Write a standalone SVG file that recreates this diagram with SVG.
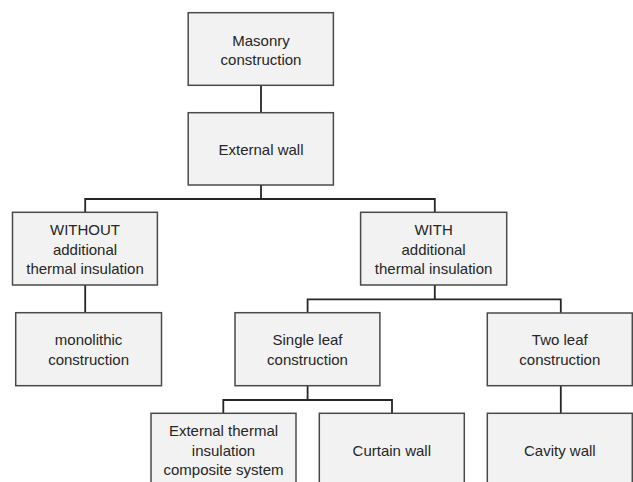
<svg xmlns="http://www.w3.org/2000/svg" width="633" height="482" viewBox="0 0 633 482">
<style>
.box{fill:#f2f2f2;stroke:#4a4a4a;stroke-width:1.5}
.lbl{font-family:"Liberation Sans",Arial,sans-serif;font-size:15px;fill:#262626;text-anchor:middle}
.conn{fill:none;stroke:#262626;stroke-width:1.8}
</style>
<rect width="633" height="482" fill="#ffffff"/>
<g id="connectors">
<path class="conn" d="M261,85.5 V112.5"/>
<path class="conn" d="M261,185 V199 M85.2,212.5 V199 H434.8 V212.5"/>
<path class="conn" d="M85.2,285 V312.7"/>
<path class="conn" d="M434.8,285 V299.3 M307.6,312.7 V299.3 H560.8 V312.7"/>
<path class="conn" d="M307.6,385.7 V400 M223.3,413.3 V400 H392 V413.3"/>
<path class="conn" d="M560.8,385.7 V413.3"/>
</g>
<g id="masonry">
<rect class="box" x="188.2" y="12.7" width="145.2" height="72.6"/>
<text class="lbl" x="261" y="45.7">Masonry</text>
<text class="lbl" x="261" y="65.2">construction</text>
</g>
<g id="external-wall">
<rect class="box" x="188.2" y="112.7" width="145.2" height="72.3"/>
<text class="lbl" x="261" y="155.3">External wall</text>
</g>
<g id="without">
<rect class="box" x="12.5" y="212.3" width="144.9" height="72.7"/>
<text class="lbl" x="85" y="235.3">WITHOUT</text>
<text class="lbl" x="85" y="254.8">additional</text>
<text class="lbl" x="85" y="274.3">thermal insulation</text>
</g>
<g id="with">
<rect class="box" x="360.6" y="212.3" width="146.1" height="72.7"/>
<text class="lbl" x="433.6" y="235.3">WITH</text>
<text class="lbl" x="433.6" y="254.8">additional</text>
<text class="lbl" x="433.6" y="274.3">thermal insulation</text>
</g>
<g id="monolithic">
<rect class="box" x="15.7" y="312.7" width="145.8" height="73"/>
<text class="lbl" x="88.6" y="345.3">monolithic</text>
<text class="lbl" x="88.6" y="364.8">construction</text>
</g>
<g id="single-leaf">
<rect class="box" x="235" y="312.7" width="144.9" height="73"/>
<text class="lbl" x="307.5" y="345.3">Single leaf</text>
<text class="lbl" x="307.5" y="364.8">construction</text>
</g>
<g id="two-leaf">
<rect class="box" x="487.3" y="313" width="145" height="72.7"/>
<text class="lbl" x="559.8" y="345.3">Two leaf</text>
<text class="lbl" x="559.8" y="364.8">construction</text>
</g>
<g id="etics">
<rect class="box" x="151" y="413.3" width="145" height="80"/>
<text class="lbl" x="223.5" y="436">External thermal</text>
<text class="lbl" x="223.5" y="455.5">insulation</text>
<text class="lbl" x="223.5" y="475">composite system</text>
</g>
<g id="curtain-wall">
<rect class="box" x="319.3" y="413.3" width="145" height="80"/>
<text class="lbl" x="391.8" y="455.5">Curtain wall</text>
</g>
<g id="cavity-wall">
<rect class="box" x="487.3" y="413.3" width="145" height="80"/>
<text class="lbl" x="559.8" y="455.5">Cavity wall</text>
</g>
</svg>
